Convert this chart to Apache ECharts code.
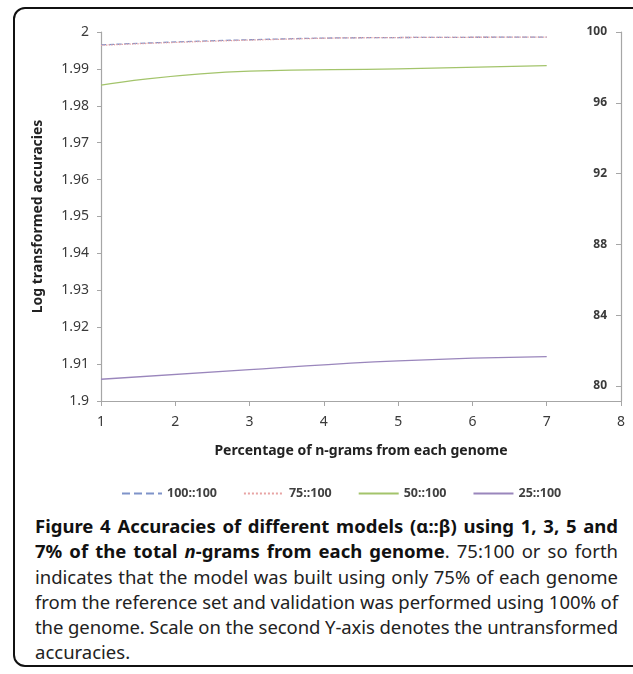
<!DOCTYPE html>
<html>
<head>
<meta charset="utf-8">
<script src="https://cdn.jsdelivr.net/npm/echarts@6/dist/echarts.min.js"></script>
<style>
html,body{margin:0;padding:0;background:#fff;}
#wrap{position:relative;width:633px;height:674px;overflow:hidden;}
#frame{position:absolute;left:13px;top:7px;width:640px;height:660px;border:2px solid #111;border-radius:12px;box-sizing:border-box;}
#chart{position:absolute;left:0;top:0;width:633px;height:510px;}
#cap{position:absolute;left:35px;top:513px;width:583px;font-family:"Noto Sans","Open Sans",sans-serif;font-size:18.5px;line-height:25.3px;color:#222;}
#cap div{text-align:justify;text-align-last:justify;white-space:nowrap;}
#cap div.last{text-align-last:left;}
#cap b{font-weight:bold;color:#111;}
</style>
</head>
<body>
<div id="wrap">
<div id="frame"></div>
<div id="chart"></div>
<div id="cap">
<div><b>Figure 4 Accuracies of different models (α::β) using 1, 3, 5 and</b></div>
<div><b>7% of the total <i>n</i>-grams from each genome</b>. 75:100 or so forth</div>
<div>indicates that the model was built using only 75% of each genome</div>
<div>from the reference set and validation was performed using 100% of</div>
<div>the genome. Scale on the second Y-axis denotes the untransformed</div>
<div class="last">accuracies.</div>
</div>
</div>
<script>
const xValues = [1, 3, 5, 7];
const seriesNames = ['100::100', '75::100', '50::100', '25::100'];
const s100 = [1.9965, 1.9979, 1.9985, 1.9986];
const s75 = [1.9964, 1.9978, 1.9985, 1.9986];
const s50 = [1.9856, 1.9894, 1.9900, 1.9909];
const s25 = [1.9059, 1.9085, 1.9109, 1.9120];
const rightTicks = [80, 84, 88, 92, 96, 100];

// fit caption lines into the text width
document.querySelectorAll('#cap div').forEach(d => {
  const span = document.createElement('span');
  span.innerHTML = d.innerHTML;
  span.style.whiteSpace = 'nowrap';
  const probe = document.createElement('div');
  probe.style.cssText = 'position:absolute;visibility:hidden;white-space:nowrap;font-family:inherit;font-size:inherit;';
  probe.appendChild(span);
  document.getElementById('cap').appendChild(probe);
  const w = span.getBoundingClientRect().width;
  probe.remove();
  const n = d.textContent.length;
  if (w > 583) d.style.letterSpacing = ((583 - w) / n) + 'px';
});

const colors = ['#7f93c9', '#e8a3a3', '#a3c46b', '#9a86bc'];
const lineTypes = ['dashed', 'dotted', 'solid', 'solid'];
const allData = [s100, s75, s50, s25];

const axisColor = '#a6a6a6';
const labelColor = '#3a3a3a';
const fontFam = '"Noto Sans","Open Sans",sans-serif';

const chart = echarts.init(document.getElementById('chart'), null, {renderer: 'canvas'});
chart.setOption({
  animation: false,
  grid: {left: 101, right: 12, top: 32, bottom: 109, containLabel: false},
  legend: {
    show: true,
    top: 482, left: 116,
    itemWidth: 40, itemHeight: 10, itemGap: 26,
    itemStyle: {opacity: 0},
    textStyle: {fontFamily: fontFam, fontSize: 12.5, fontWeight: 'bold', color: '#404040'},
    data: seriesNames
  },
  xAxis: {
    type: 'value', min: 1, max: 8, interval: 1,
    axisLine: {show: true, lineStyle: {color: axisColor, width: 1.2}},
    axisTick: {show: true, length: 5, lineStyle: {color: axisColor}},
    splitLine: {show: false},
    axisLabel: {color: labelColor, fontFamily: fontFam, fontSize: 14, margin: 14},
    name: 'Percentage of n-grams from each genome',
    nameLocation: 'middle', nameGap: 43,
    nameTextStyle: {fontFamily: fontFam, fontSize: 14, fontWeight: 'bold', color: '#222'}
  },
  yAxis: [{
    type: 'value', min: 1.9, max: 2, interval: 0.01,
    position: 'left',
    axisLine: {show: true, lineStyle: {color: axisColor, width: 1.2}},
    axisTick: {show: true, length: 4, lineStyle: {color: axisColor}},
    splitLine: {show: false},
    axisLabel: {color: labelColor, fontFamily: fontFam, fontSize: 14, margin: 12,
      formatter: v => String(Math.round(v * 1000) / 1000)},
    name: 'Log transformed accuracies',
    nameLocation: 'middle', nameGap: 56, nameRotate: 90,
    nameTextStyle: {fontFamily: fontFam, fontSize: 14, fontWeight: 'bold', color: '#222'}
  }, {
    type: 'value', min: 79.15, max: 100,
    position: 'right',
    axisLine: {show: true, lineStyle: {color: axisColor, width: 1.2}},
    axisTick: {show: true, inside: true, length: 5, customValues: rightTicks, lineStyle: {color: axisColor}},
    splitLine: {show: false},
    axisLabel: {inside: true, customValues: rightTicks, color: labelColor, fontFamily: fontFam, fontSize: 12, fontWeight: 'bold', margin: 14}
  }],
  series: seriesNames.map((n, i) => ({
    name: n, type: 'line', smooth: true, showSymbol: false, symbol: 'none',
    yAxisIndex: 0,
    lineStyle: {color: colors[i], type: lineTypes[i], width: 1.3},
    itemStyle: {color: colors[i]},
    data: xValues.map((x, j) => [x, allData[i][j]])
  }))
});
</script>
</body>
</html>
